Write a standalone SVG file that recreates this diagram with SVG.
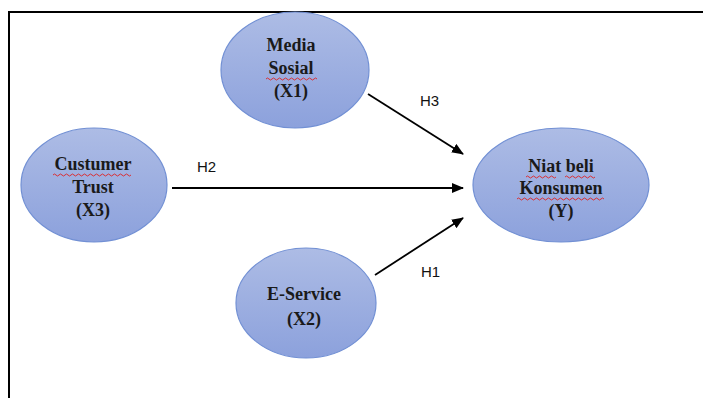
<svg xmlns="http://www.w3.org/2000/svg" width="703" height="398" viewBox="0 0 703 398">
<style>
.node{fill:url(#g);stroke:#7290d4;stroke-width:1.2}
.t{font-family:"Liberation Serif",serif;font-weight:bold;font-size:18px;fill:#1a1a1a;text-anchor:middle}
.lbl{font-family:"Liberation Sans",sans-serif;font-size:15px;fill:#111}
.edge{stroke:#000;stroke-width:1.8;fill:none;marker-end:url(#arr)}
.sq{stroke:#e02020;stroke-width:0.9;fill:none}
</style>
<defs>
<linearGradient id="g" x1="0" y1="0" x2="0" y2="1">
<stop offset="0" stop-color="#adbce5"/>
<stop offset="1" stop-color="#8ca1dc"/>
</linearGradient>
<marker id="arr" markerWidth="12" markerHeight="10" refX="11" refY="5" orient="auto" markerUnits="userSpaceOnUse">
<path d="M0,0 L12,5 L0,10 Z" fill="#000"/>
</marker>
</defs>
<rect width="703" height="398" fill="#fff"/>
<path d="M9,398 V12 H703" stroke="#000" stroke-width="2" fill="none"/>
<g id="connectors">
<line class="edge" x1="368" y1="94" x2="463" y2="154"/>
<line class="edge" x1="172" y1="188" x2="463" y2="188"/>
<line class="edge" x1="375" y1="275" x2="463" y2="218"/>
<text class="lbl" x="420" y="106">H3</text>
<text class="lbl" x="197" y="172">H2</text>
<text class="lbl" x="421" y="277">H1</text>
</g>
<g id="media-sosial">
<ellipse class="node" cx="295" cy="70" rx="74" ry="58"/>
<text class="t" x="291" y="51">Media</text>
<text class="t" x="291" y="74">Sosial</text>
<path class="sq" d="M266,79 q1.5,-2 3,0 t3,0 t3,0 t3,0 t3,0 t3,0 t3,0 t3,0 t3,0 t3,0 t3,0 t3,0 t3,0 t3,0 t3,0 t3,0 t3,0"/>
<text class="t" x="291" y="97">(X1)</text>
</g>
<g id="customer-trust">
<ellipse class="node" cx="94" cy="185" rx="73" ry="57"/>
<text class="t" x="93" y="170">Custumer</text>
<path class="sq" d="M53,175 q1.5,-2 3,0 t3,0 t3,0 t3,0 t3,0 t3,0 t3,0 t3,0 t3,0 t3,0 t3,0 t3,0 t3,0 t3,0 t3,0 t3,0 t3,0 t3,0 t3,0 t3,0 t3,0 t3,0 t3,0 t3,0 t3,0 t3,0"/>
<text class="t" x="93" y="193">Trust</text>
<text class="t" x="93" y="216">(X3)</text>
</g>
<g id="niat-beli">
<ellipse class="node" cx="561" cy="185" rx="88" ry="57"/>
<text class="t" x="561" y="172">Niat beli</text>
<path class="sq" d="M526,177 q1.5,-2 3,0 t3,0 t3,0 t3,0 t3,0 t3,0 t3,0 t3,0 t3,0 t3,0"/>
<path class="sq" d="M565,177 q1.5,-2 3,0 t3,0 t3,0 t3,0 t3,0 t3,0 t3,0 t3,0 t3,0 t3,0"/>
<text class="t" x="561" y="194">Konsumen</text>
<path class="sq" d="M517,199 q1.5,-2 3,0 t3,0 t3,0 t3,0 t3,0 t3,0 t3,0 t3,0 t3,0 t3,0 t3,0 t3,0 t3,0 t3,0 t3,0 t3,0 t3,0 t3,0 t3,0 t3,0 t3,0 t3,0 t3,0 t3,0 t3,0 t3,0 t3,0 t3,0 t3,0"/>
<text class="t" x="561" y="217">(Y)</text>
</g>
<g id="e-service">
<ellipse class="node" cx="306" cy="303" rx="70" ry="55"/>
<text class="t" x="304" y="300">E-Service</text>
<text class="t" x="304" y="325">(X2)</text>
</g>
</svg>
